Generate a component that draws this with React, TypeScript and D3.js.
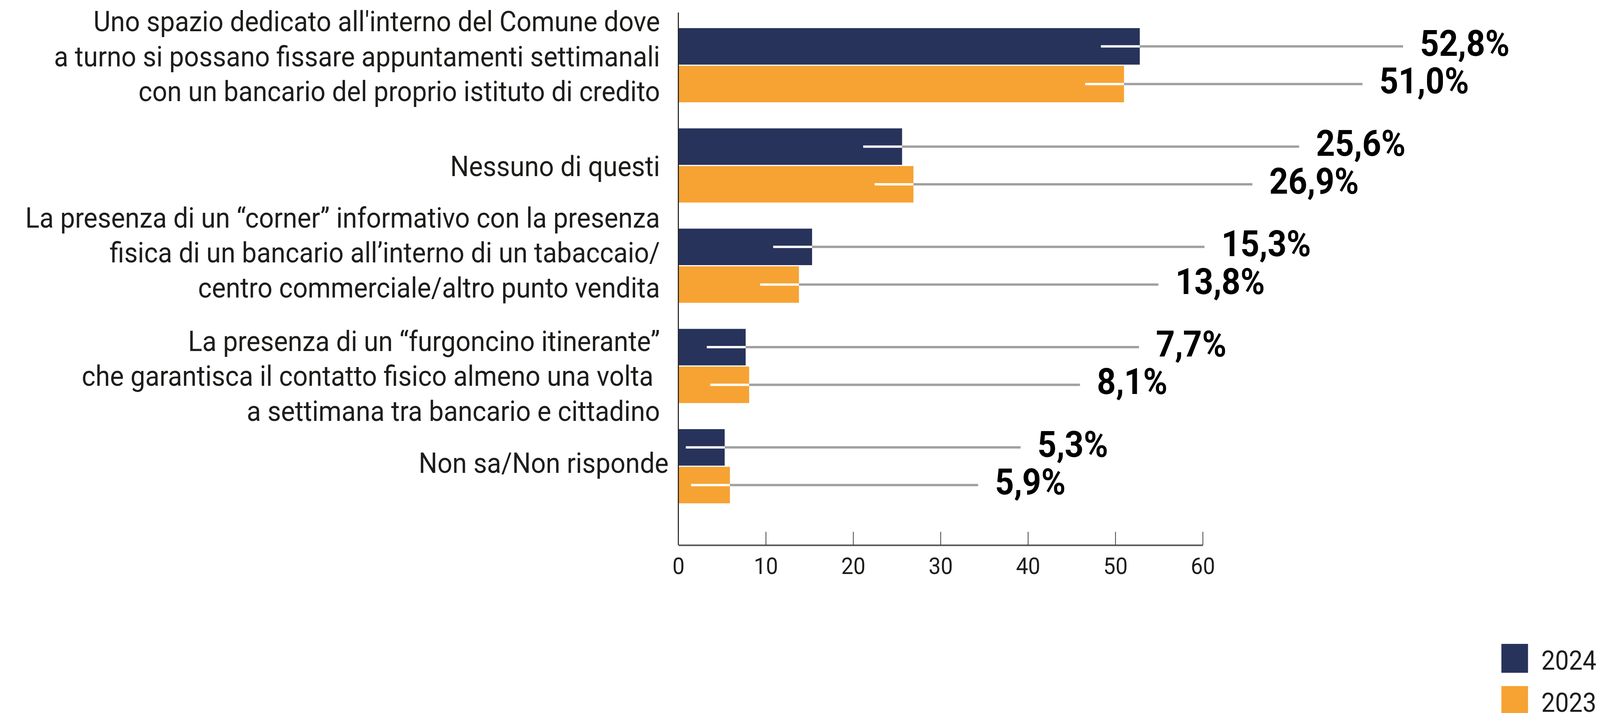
import React, { useEffect, useRef } from "react";
import * as d3 from "d3";

// ---- data ----
const categories: string[][] = [
  [
    "Uno spazio dedicato all'interno del Comune dove",
    "a turno si possano fissare appuntamenti settimanali",
    "con un bancario del proprio istituto di credito",
  ],
  ["Nessuno di questi"],
  [
    "La presenza di un \u201Ccorner\u201D informativo con la presenza",
    "fisica di un bancario all\u2019interno di un tabaccaio/",
    "centro commerciale/altro punto vendita",
  ],
  [
    "La presenza di un \u201Cfurgoncino itinerante\u201D",
    "che garantisca il contatto fisico almeno una volta\u00A0",
    "a settimana tra bancario e cittadino",
  ],
  ["Non sa/Non risponde"],
];
const series = ["2024", "2023"];
const values2024 = [52.8, 25.6, 15.3, 7.7, 5.3];
const values2023 = [51.0, 26.9, 13.8, 8.1, 5.9];
const xTicks = [0, 10, 20, 30, 40, 50, 60];

// ---- layout (not data) ----
const W = 4446;
const H = 1826;
const X0 = 1885;
const X60 = 3342;
const PLOT_TOP = 72;
const PLOT_BOTTOM = 1289;
const AXIS_Y = 1396;
const COLORS: Record<string, string> = { "2024": "#27335b", "2023": "#f6a333" };
// value label left edges, per category, per series (free placement in the original)
const valueLabelX2024 = [3946, 3657, 3394, 3212, 2883];
const valueLabelX2023 = [3833, 3527, 3266, 3048, 2765];
const labelShift = [-22, 2, -33, 26, -8];
const labelRight = [1834, 1834, 1834, 1834, 1858];
const LINE_H = 89.5;

const fmt = (v: number) => v.toFixed(1).replace(".", ",") + "%";

export default function App() {
  const axisRef = useRef<SVGGElement>(null);

  const x = d3.scaleLinear().domain([0, 60]).range([X0, X60]);
  const y = d3
    .scaleBand<number>()
    .domain(categories.map((_, i) => i))
    .range([PLOT_TOP, PLOT_BOTTOM])
    .paddingInner(0.26)
    .paddingOuter(0)
    .align(0);
  const ys = d3
    .scaleBand<string>()
    .domain(series)
    .range([0, y.bandwidth()])
    .paddingInner(0.031);

  useEffect(() => {
    if (!axisRef.current) return;
    const g = d3.select(axisRef.current);
    g.selectAll("*").remove();
    g.call(
      d3
        .axisBottom(x)
        .tickValues(xTicks)
        .tickSizeInner(-34)
        .tickSizeOuter(0)
        .tickFormat((d) => String(d))
    );
    g.select(".domain").attr("stroke", "#555").attr("stroke-width", 4);
    g.selectAll(".tick line").attr("stroke", "#333").attr("stroke-width", 2);
    g.selectAll(".tick text")
      .attr("y", 74)
      .attr("dy", 0)
      .attr("fill", "#1d1d1b")
      .attr("font-size", 60)
      .attr("font-family", "Roboto, 'Liberation Sans', sans-serif");
  }, []);

  const valuesBySeries: Record<string, number[]> = { "2024": values2024, "2023": values2023 };
  const labelXBySeries: Record<string, number[]> = { "2024": valueLabelX2024, "2023": valueLabelX2023 };

  return (
    <svg
      viewBox={`0 0 ${W} ${H}`}
      preserveAspectRatio="none"
      style={{
        position: "fixed",
        left: 0,
        top: 0,
        width: "100vw",
        height: "100vh",
        display: "block",
        background: "#fff",
      }}
      fontFamily="Roboto, 'Liberation Sans', sans-serif"
    >
      <rect x={0} y={0} width={W} height={H} fill="#fff" />
      {/* category labels */}
      {categories.map((lines, i) => {
        const center = (y(i) as number) + y.bandwidth() / 2 + labelShift[i];
        const n = lines.length;
        return (
          <text
            key={"c" + i}
            textAnchor="end"
            fontSize={73}
            fill="#1d1d1b"
            style={{ whiteSpace: "pre" }}
          >
            {lines.map((ln, k) => (
              <tspan key={k} x={labelRight[i]} y={center + 25 + (k - (n - 1) / 2) * LINE_H}>
                {ln}
              </tspan>
            ))}
          </text>
        );
      })}

      {/* bars */}
      {categories.map((_, i) =>
        series.map((s) => {
          const v = valuesBySeries[s][i];
          const top = (y(i) as number) + (ys(s) as number);
          return (
            <rect
              key={"b" + i + s}
              x={x(0)}
              y={top}
              width={x(v) - x(0)}
              height={ys.bandwidth()}
              fill={COLORS[s]}
            />
          );
        })
      )}

      {/* leader lines + values */}
      {categories.map((_, i) =>
        series.map((s) => {
          const v = valuesBySeries[s][i];
          const cy = (y(i) as number) + (ys(s) as number) + ys.bandwidth() / 2;
          const end = x(v);
          const lx = labelXBySeries[s][i];
          return (
            <g key={"l" + i + s}>
              <line x1={Math.max(x(0) + 20, end - 108)} x2={end} y1={cy} y2={cy} stroke="#fff" strokeWidth={6} />
              <line x1={end} x2={lx - 47} y1={cy} y2={cy} stroke="#a0a0a0" strokeWidth={6} />
              <text x={lx} y={cy + 24} fontSize={92} fontWeight={700} fill="#000">
                {fmt(v)}
              </text>
            </g>
          );
        })
      )}

      {/* axes */}
      <line x1={X0} x2={X0} y1={32} y2={AXIS_Y} stroke="#222" strokeWidth={3} />
      <g ref={axisRef} transform={`translate(0,${AXIS_Y})`} />

      {/* legend */}
      {series.map((s, k) => (
        <g key={"lg" + s}>
          <rect x={4172} y={1649 + k * 108} width={74} height={74} fill={COLORS[s]} />
          <text x={4283} y={1715 + k * 108} fontSize={68} fill="#1d1d1b">
            {s}
          </text>
        </g>
      ))}
    </svg>
  );
}
